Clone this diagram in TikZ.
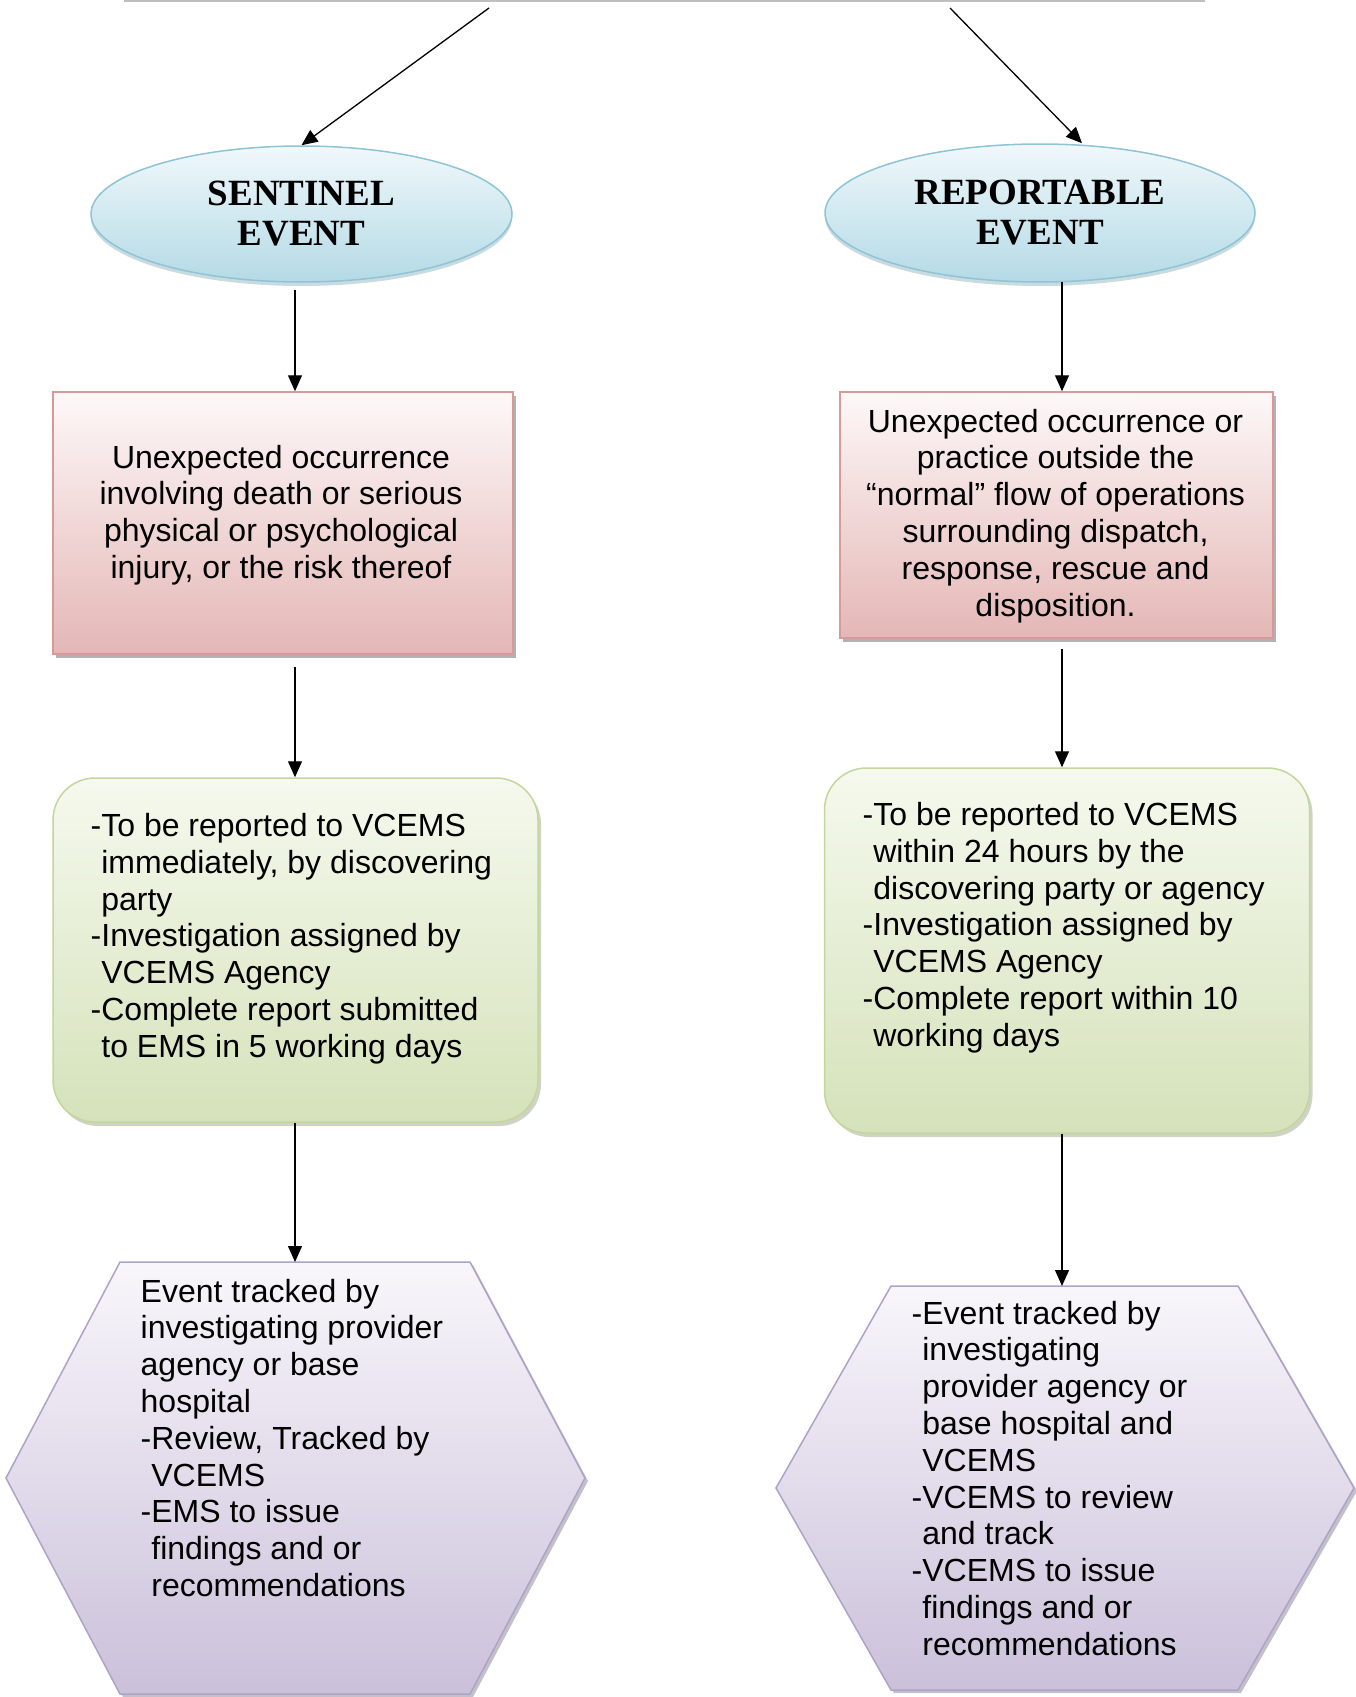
\documentclass[tikz,border=0pt]{standalone}
\usepackage{fontspec}
\setmainfont{Liberation Sans}
\newfontfamily\evfont{Liberation Serif}
\usetikzlibrary{arrows.meta,shadows,shapes.geometric}
\definecolor{evtop}{HTML}{F0F8FB}
\definecolor{evbot}{HTML}{B4DAE6}
\definecolor{evline}{HTML}{8EC4D5}
\definecolor{pktop}{HTML}{FDF8F8}
\definecolor{pkbot}{HTML}{E4B7B6}
\definecolor{pkline}{HTML}{D79A99}
\definecolor{grtop}{HTML}{F5F9EE}
\definecolor{grbot}{HTML}{D5E2BA}
\definecolor{grline}{HTML}{C3D69B}
\definecolor{putop}{HTML}{F8F6FB}
\definecolor{pubot}{HTML}{CBC0DA}
\definecolor{puline}{HTML}{B0A2C6}
\begin{document}
\begin{tikzpicture}[x=1pt,y=-1pt,
  body/.style={font=\fontsize{32}{36.8}\selectfont, inner sep=0pt, text=black},
  leftblock/.style={body, align=left, anchor=north west},
  centerblock/.style={body, align=center, anchor=north},
  evshape/.style={ellipse, draw=evline, line width=1.5pt, top color=evtop, bottom color=evbot,
    inner sep=0pt, align=center, font=\evfont\bfseries\fontsize{37}{40}\selectfont,
    drop shadow={shadow xshift=0pt, shadow yshift=-4pt, fill=evline!70!gray, opacity=0.45}},
  pkshape/.style={rectangle, draw=pkline, line width=1.5pt, top color=pktop, bottom color=pkbot,
    inner sep=0pt, drop shadow={shadow xshift=3pt, shadow yshift=-4pt, fill=black, opacity=0.3}},
  grshape/.style={rectangle, rounded corners=42pt, draw=grline, line width=1.5pt, top color=grtop, bottom color=grbot,
    inner sep=0pt, drop shadow={shadow xshift=3pt, shadow yshift=-4pt, fill=grline!60!black, opacity=0.35}},
  pushape/.style={draw=puline, line width=1.5pt, top color=putop, bottom color=pubot,
    drop shadow={shadow xshift=3pt, shadow yshift=-3pt, fill=puline!60!black, opacity=0.4}},
  arr/.style={-{Triangle[length=16pt,width=14pt]}, line width=1.3pt, black},
]
\useasboundingbox (0,0) rectangle (1356,1697);

% top bar
\coordinate (barL) at (124,1);
\coordinate (barR) at (1205,1);
\draw[line width=2pt, color=black!25] (barL) -- (barR);

% column coordinates
\coordinate (colL) at (295,0);
\coordinate (colR) at (1062,0);
\coordinate (tipR) at (1082,0);
\coordinate (topL) at (489,8);
\coordinate (topR) at (950,8);

% ellipses
\node[evshape, minimum width=421pt, minimum height=136pt] (sent) at (301.5,214) {SENTINEL\\EVENT};
\node[evshape, minimum width=430pt, minimum height=138pt] (rep) at (1040,213) {REPORTABLE\\EVENT};

% pink boxes
\node[pkshape, minimum width=460pt, minimum height=262pt] (pkL) at (283,523) {};
\node[pkshape, minimum width=433pt, minimum height=246pt] (pkR) at (1056.5,515) {};
\node[centerblock] (pkLt) at (281,442.2) {\strut Unexpected occurrence\\involving death or serious\\physical or psychological\\injury, or the risk thereof};
\node[centerblock] (pkRt) at (1055.5,406.2) {\strut Unexpected occurrence or\\practice outside the\\“normal” flow of operations\\surrounding dispatch,\\response, rescue and\\disposition.};

% green boxes
\node[grshape, minimum width=485pt, minimum height=344pt] (grL) at (295.5,950) {};
\node[grshape, minimum width=485pt, minimum height=365pt] (grR) at (1067,950.5) {};
\node[leftblock] (grLt) at (90.5,810.5) {\strut -To be reported to VCEMS\\\hphantom{-}immediately, by discovering\\\hphantom{-}party\\-Investigation assigned by\\\hphantom{-}VCEMS Agency\\-Complete report submitted\\\hphantom{-}to EMS in 5 working days};
\node[leftblock] (grRt) at (862.5,799.5) {\strut -To be reported to VCEMS\\\hphantom{-}within 24 hours by the\\\hphantom{-}discovering party or agency\\-Investigation assigned by\\\hphantom{-}VCEMS Agency\\-Complete report within 10\\\hphantom{-}working days};

% hexagons
\path[pushape] (120,1262) -- (470,1262) -- (585,1478) -- (470,1694) -- (120,1694) -- (6,1478) -- cycle;
\coordinate (hexL) at (295,1262);
\path[pushape] (891,1286) -- (1238,1286) -- (1354,1488) -- (1238,1690) -- (891,1690) -- (776,1488) -- cycle;
\coordinate (hexR) at (1062,1286);
\node[leftblock] (huLt) at (140.5,1276.2) {\strut Event tracked by\\investigating provider\\agency or base\\hospital\\-Review, Tracked by\\\hphantom{-}VCEMS\\-EMS to issue\\\hphantom{-}findings and or\\\hphantom{-}recommendations};
\node[leftblock] (huRt) at (911.5,1298.2) {\strut -Event tracked by\\\hphantom{-}investigating\\\hphantom{-}provider agency or\\\hphantom{-}base hospital and\\\hphantom{-}VCEMS\\-VCEMS to review\\\hphantom{-}and track\\-VCEMS to issue\\\hphantom{-}findings and or\\\hphantom{-}recommendations};

% connectors
\draw[arr] (topL) -- (sent.north);
\draw[arr] (topR) -- (rep.north -| tipR);
\draw[arr, shorten <=7pt] (sent.south -| colL) -- (pkL.north -| colL);
\draw[arr, shorten <=12pt] (pkL.south -| colL) -- (grL.north -| colL);
\draw[arr] (grL.south -| colL) -- (hexL);
\draw[arr, shorten <=-1pt] (rep.south -| colR) -- (pkR.north -| colR);
\draw[arr, shorten <=10pt] (pkR.south -| colR) -- (grR.north -| colR);
\draw[arr] (grR.south -| colR) -- (hexR);
\end{tikzpicture}
\end{document}
